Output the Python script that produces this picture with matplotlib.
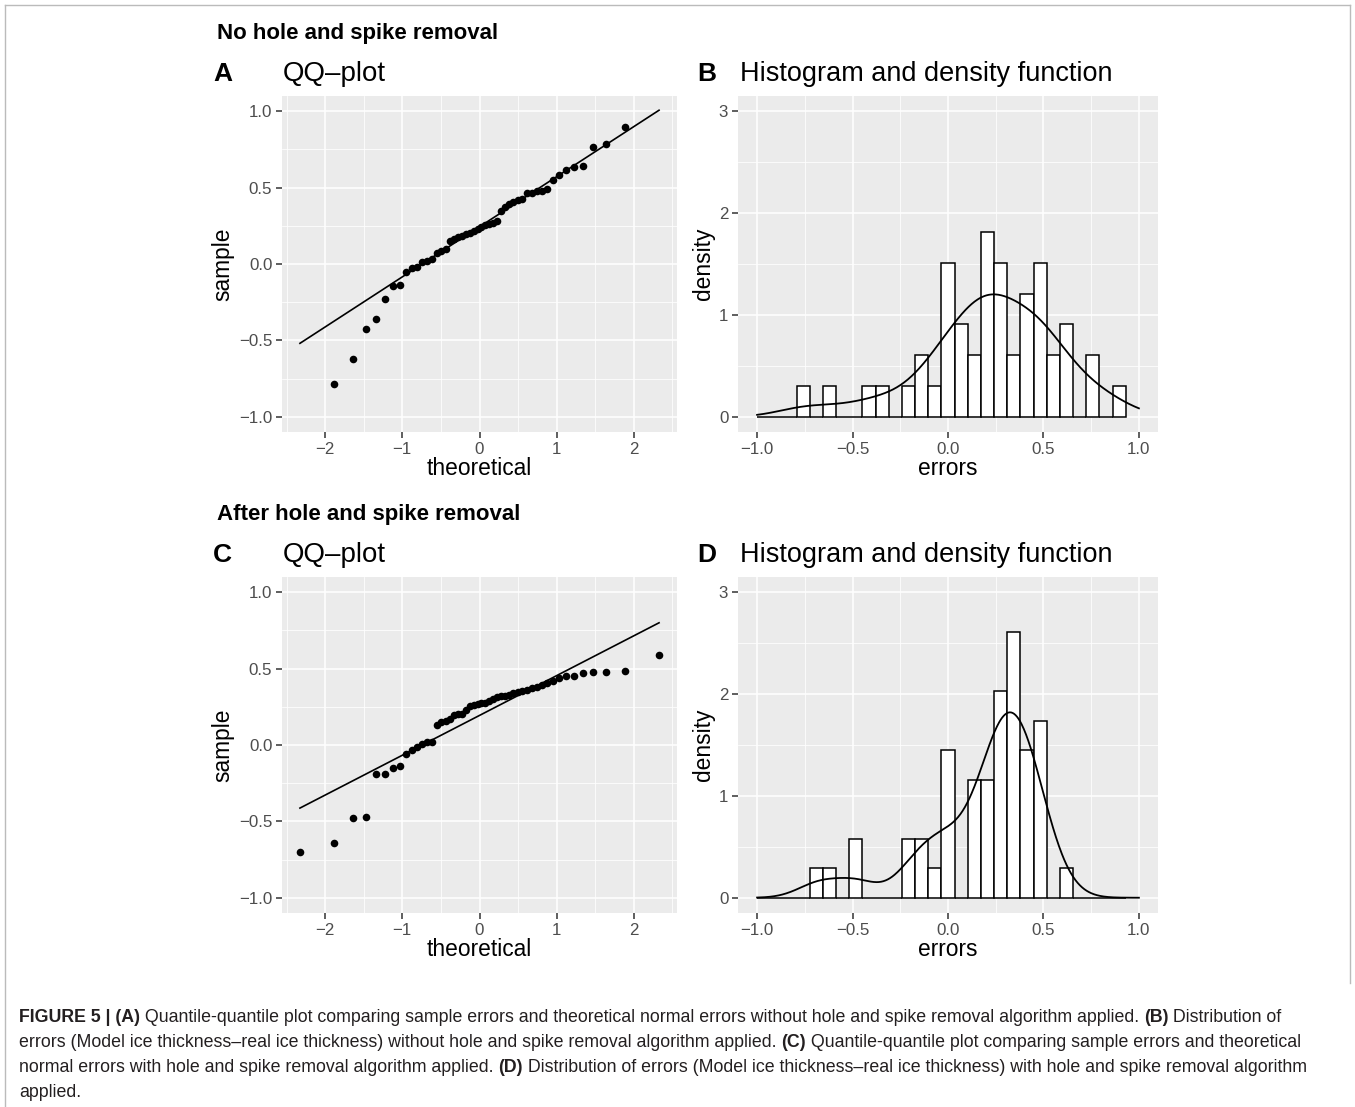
import numpy as np
import matplotlib
matplotlib.use("Agg")
import matplotlib.pyplot as plt
from matplotlib.lines import Line2D
from statistics import NormalDist

plt.rcParams['font.family'] = ['Liberation Sans', 'DejaVu Sans']

# sorted sample errors (50 each)
# first/last value of panel A lie outside the -1..1 limits and are not drawn
errors_no_removal = [
    -1.20, -0.786, -0.621, -0.425, -0.359, -0.230, -0.147, -0.136, -0.053,
    -0.028, -0.022, 0.015, 0.020, 0.030,
    0.075, 0.088, 0.095, 0.150, 0.165,
    0.175, 0.185, 0.195, 0.205, 0.215, 0.230,
    0.245, 0.254, 0.262, 0.271, 0.280,
    0.348, 0.372,
    0.392, 0.407, 0.418, 0.424,
    0.462, 0.466, 0.475, 0.479, 0.488,
    0.547, 0.582, 0.613, 0.632, 0.643,
    0.764, 0.785, 0.899, 1.10,
]
errors_removal = [
    -0.702, -0.643, -0.476, -0.472, -0.192, -0.190, -0.151, -0.138, -0.057,
    -0.030, -0.015, 0.004, 0.017, 0.020,
    0.133, 0.149, 0.160, 0.168,
    0.199, 0.203, 0.205, 0.232,
    0.255, 0.262, 0.266, 0.272, 0.278, 0.285, 0.300,
    0.312, 0.318, 0.322, 0.330, 0.338, 0.345, 0.352, 0.362, 0.372,
    0.382, 0.395, 0.405, 0.420, 0.440,
    0.450, 0.455, 0.470, 0.481, 0.481, 0.482,
    0.592,
]

row_titles = ["No hole and spike removal", "After hole and spike removal"]
letters = [["A", "B"], ["C", "D"]]
panel_titles = ["QQ\u2013plot", "Histogram and density function"]

W, H = 1355, 1107
fig = plt.figure(figsize=(W / 100, H / 100), dpi=100)

BG = "#EBEBEB"
TICKC = "#4D4D4D"


def px_axes(x0, y0, x1, y1):
    return fig.add_axes([x0 / W, 1 - y1 / H, (x1 - x0) / W, (y1 - y0) / H])


def gg_style(ax, xmaj, ymaj, xmin, ymin):
    ax.set_facecolor(BG)
    for s in ax.spines.values():
        s.set_visible(False)
    ax.set_xticks(xmaj)
    ax.set_yticks(ymaj)
    ax.set_xticks(xmin, minor=True)
    ax.set_yticks(ymin, minor=True)
    ax.grid(True, which="major", color="white", lw=1.1)
    ax.grid(True, which="minor", color="white", lw=0.55)
    ax.set_axisbelow(True)
    ax.tick_params(which="major", length=4, width=1.1, color="#333333",
                   labelsize=12.2, labelcolor=TICKC, pad=3)
    ax.tick_params(which="minor", length=0)


def fmt1(v):
    return ("%.1f" % v).replace("-", "\u2212")


def fmt0(v):
    return ("%d" % v).replace("-", "\u2212")


def qq_panel(ax, vals):
    s = np.sort(np.array(vals))
    n = len(s)
    theo = np.array([NormalDist().inv_cdf((i - 0.5) / n) for i in range(1, n + 1)])
    # qq line through the quartiles (like stat_qq_line)
    q1, q3 = np.quantile(s, [0.25, 0.75])
    t1, t3 = NormalDist().inv_cdf(0.25), NormalDist().inv_cdf(0.75)
    slope = (q3 - q1) / (t3 - t1)
    icpt = q1 - slope * t1
    keep = (s >= -1) & (s <= 1)
    ax.scatter(theo[keep], s[keep], s=30, color="black", lw=0, zorder=3)
    ax.plot([theo[0], theo[-1]], [icpt + slope * theo[0], icpt + slope * theo[-1]],
            color="black", lw=1.2, zorder=2)
    ext = (theo[-1] - theo[0]) * 0.05
    ax.set_xlim(theo[0] - ext, theo[-1] + ext)
    ax.set_ylim(-1.1, 1.1)
    gg_style(ax, [-2, -1, 0, 1, 2], [-1, -0.5, 0, 0.5, 1],
             [-2.5, -1.5, -0.5, 0.5, 1.5, 2.5], [-0.75, -0.25, 0.25, 0.75])
    ax.set_xticklabels([fmt0(v) for v in [-2, -1, 0, 1, 2]])
    ax.set_yticklabels([fmt1(v) for v in [-1, -0.5, 0, 0.5, 1]])
    ax.set_xlabel("theoretical", fontsize=16.4, labelpad=0)
    ax.set_ylabel("sample", fontsize=16.4, labelpad=3)


def hist_panel(ax, vals):
    v = np.array(vals)
    v = v[(v >= -1) & (v <= 1)]
    w = 2 / 29
    edges = -1 + w * np.arange(29)
    ax.hist(v, bins=edges, density=True, facecolor="white", edgecolor="black",
            lw=1.1, zorder=2)
    # gaussian kde, bw.nrd0
    n = len(v)
    iqr = np.subtract(*np.percentile(v, [75, 25]))
    bw = 0.9 * min(np.std(v, ddof=1), iqr / 1.34) * n ** -0.2
    xs = np.linspace(-1, 1, 512)
    dens = np.exp(-0.5 * ((xs[:, None] - v[None, :]) / bw) ** 2).sum(1) / (n * bw * np.sqrt(2 * np.pi))
    ax.plot(xs, dens, color="black", lw=1.3, zorder=3)
    ax.set_xlim(-1.1, 1.1)
    ax.set_ylim(-0.15, 3.15)
    gg_style(ax, [-1, -0.5, 0, 0.5, 1], [0, 1, 2, 3],
             [-0.75, -0.25, 0.25, 0.75], [0.5, 1.5, 2.5])
    ax.set_xticklabels([fmt1(t) for t in [-1, -0.5, 0, 0.5, 1]])
    ax.set_yticklabels([fmt0(t) for t in [0, 1, 2, 3]])
    ax.set_xlabel("errors", fontsize=16.4, labelpad=0)
    ax.set_ylabel("density", fontsize=16.4, labelpad=3)


datasets = [errors_no_removal, errors_removal]
for r in range(2):
    off = 481 * r
    axq = px_axes(282, 96 + off, 677, 432 + off)
    qq_panel(axq, datasets[r])
    axh = px_axes(738, 96 + off, 1158, 432 + off)
    hist_panel(axh, datasets[r])
    fig.text(217 / W, 1 - (39 + off) / H, row_titles[r], fontsize=16,
             fontweight="bold", va="baseline")
    fig.text(213 / W, 1 - (81 + off) / H, letters[r][0], fontsize=19,
             fontweight="bold", va="baseline")
    fig.text(283 / W, 1 - (81 + off) / H, panel_titles[0], fontsize=19.9,
             va="baseline")
    fig.text(697 / W, 1 - (81 + off) / H, letters[r][1], fontsize=19,
             fontweight="bold", va="baseline")
    fig.text(740 / W, 1 - (81 + off) / H, panel_titles[1], fontsize=19.5,
             va="baseline")

# frame around the figure
fc = "#BBBBBB"
for xs_, ys_ in [([5, 5], [5, H]), ([5, 1350], [5, 5]), ([1350, 1350], [5, 983])]:
    fig.add_artist(Line2D([x / W for x in xs_], [1 - y / H for y in ys_],
                          color=fc, lw=1.0))

# caption with mixed bold
caption = [
    [("FIGURE 5 | (A)", True),
     (" Quantile-quantile plot comparing sample errors and theoretical normal errors without hole and spike removal algorithm applied. ", False),
     ("(B)", True), (" Distribution of", False)],
    [("errors (Model ice thickness\u2013real ice thickness) without hole and spike removal algorithm applied. ", False),
     ("(C)", True), (" Quantile-quantile plot comparing sample errors and theoretical", False)],
    [("normal errors with hole and spike removal algorithm applied. ", False),
     ("(D)", True), (" Distribution of errors (Model ice thickness\u2013real ice thickness) with hole and spike removal algorithm", False)],
    [("applied.", False)],
]
renderer = fig.canvas.get_renderer()
for li, parts in enumerate(caption):
    x = 19
    y = 1022 + 25 * li
    for txt, bold in parts:
        t = fig.text(x / W, 1 - y / H, txt, fontsize=12.75, va="baseline",
                     fontweight="bold" if bold else "normal", color="#231F20")
        x += t.get_window_extent(renderer).width

fig.savefig("out.png", dpi=100)
